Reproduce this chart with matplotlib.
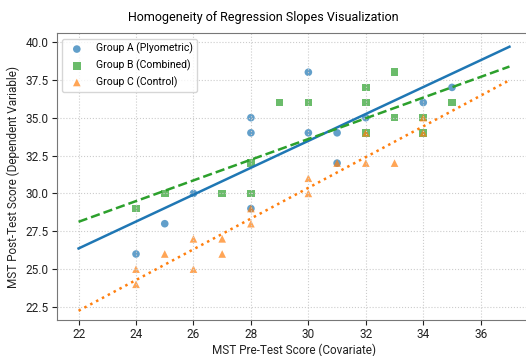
import numpy as np
import matplotlib
matplotlib.use("Agg")
import matplotlib.pyplot as plt

plt.rcParams['font.family'] = ['Roboto', 'DejaVu Sans']

# pre-test (x) and post-test (y) per group
a_pre = [24, 25, 26, 28, 28, 28, 30, 30, 31, 31, 32, 34, 35]
a_post = [26, 28, 30, 29, 34, 35, 34, 38, 34, 32, 35, 36, 37]

b_pre = [24, 25, 27, 28, 28, 29, 30, 32, 32, 32, 33, 33, 34, 34, 35]
b_post = [29, 30, 30, 30, 32, 36, 36, 37, 36, 34, 38, 35, 35, 34, 36]

c_pre = [24, 24, 25, 26, 26, 27, 27, 28, 28, 30, 30, 31, 32, 32, 33, 34, 34]
c_post = [25, 24, 26, 27, 25, 27, 26, 29, 28, 31, 30, 32, 32, 34, 32, 35, 34]

groups = [
    ("Group A (Plyometric)", a_pre, a_post, "#1f77b4", "o", "-"),
    ("Group B (Combined)", b_pre, b_post, "#2ca02c", "s", "--"),
    ("Group C (Control)", c_pre, c_post, "#ff7f0e", "^", ":"),
]

fig = plt.figure(figsize=(5.26, 3.56), dpi=100)
ax = fig.add_axes([0.1084, 0.101, 0.9011, 0.805])

xs = np.linspace(22, 37, 50)
for name, x, y, col, mk, ls in groups:
    ax.scatter(x, y, color=col, marker=mk, s=30, alpha=0.7, label=name, edgecolors='none')
    slope, icpt = np.polyfit(x, y, 1)
    ax.plot(xs, slope * xs + icpt, color=col, linestyle=ls, linewidth=1.8)

ax.set_xlim(21.25, 37.75)
ax.set_ylim(21.64, 40.56)
ax.set_xticks(range(22, 37, 2))
ax.set_yticks(np.arange(22.5, 40.1, 2.5))
ax.grid(True, linestyle=':', color='#cccccc', linewidth=0.8)
ax.tick_params(labelsize=8.5, colors='#222222', pad=2.5)
for s in ax.spines.values():
    s.set_color('#777777')

ax.set_xlabel("MST Pre-Test Score (Covariate)", fontsize=8.5, color='#222222', labelpad=1.5)
ax.set_ylabel("MST Post-Test Score (Dependent Variable)", fontsize=8.5, color='#222222', labelpad=4)
fig.suptitle("Homogeneity of Regression Slopes Visualization", fontsize=9, x=0.5, y=0.968)
ax.legend(loc='upper left', fontsize=7.5, frameon=True)

fig.savefig("out.png", dpi=100)
